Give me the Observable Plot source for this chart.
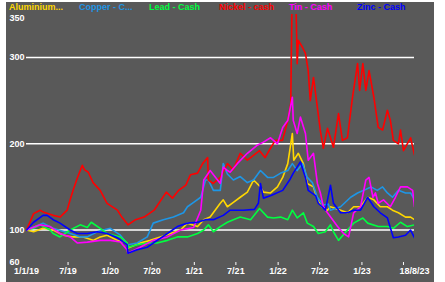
<!DOCTYPE html>
<html><head><meta charset="utf-8">
<script src="https://cdn.jsdelivr.net/npm/d3@7"></script>
<script src="https://cdn.jsdelivr.net/npm/@observablehq/plot@0.6"></script>
<style>
html,body{margin:0;padding:0;background:#fff;}
#wrap{position:absolute;left:6px;top:2px;width:428px;height:280px;background:#595959;overflow:hidden;}
#legend{position:absolute;left:0;top:0;width:428px;height:12px;}
.item{position:absolute;top:0;font:bold 9px "Liberation Sans",Arial,sans-serif;line-height:11px;white-space:nowrap;}
#chart{position:absolute;left:0;top:0;}
</style>
</head><body>
<div id="wrap"><div id="chart"></div><div id="legend"></div></div>
<script>
const seriesNames = ["Aluminium...", "Copper - C...", "Lead - Cash", "Nickel - cash", "Tin - Cash", "Zinc - Cash"];
const seriesColors = ["#ffd700", "#1e96e6", "#00ff40", "#ff0000", "#ff00ff", "#0000ff"];
const legendX = [3, 73, 143, 213, 283, 351];

const aluminium = [["2019-01-01",100],["2019-02-01",98],["2019-03-14",102],["2019-04-27",100],["2019-06-10",94],["2019-07-23",92],["2019-09-05",92],["2019-10-18",88],["2019-11-18",92],["2019-12-18",94],["2020-02-01",88],["2020-03-14",85],["2020-03-18",79],["2020-05-10",85],["2020-06-23",88],["2020-08-06",92],["2020-09-19",96],["2020-11-02",100],["2020-12-02",108],["2021-01-15",104],["2021-02-11",112],["2021-03-11",115],["2021-04-24",131],["2021-05-07",135],["2021-05-25",127],["2021-06-20",132],["2021-07-20",138],["2021-08-20",144],["2021-09-16",158],["2021-10-16",150],["2021-10-29",144],["2021-11-29",143],["2021-12-29",150],["2022-01-21",161],["2022-02-12",177],["2022-03-04",212],["2022-03-10",181],["2022-03-30",189],["2022-04-21",177],["2022-05-08",154],["2022-06-04",150],["2022-06-21",135],["2022-07-10",127],["2022-08-04",123],["2022-08-17",127],["2022-09-30",123],["2022-10-30",120],["2022-11-26",127],["2022-12-26",127],["2023-01-26",138],["2023-02-22",135],["2023-03-22",127],["2023-04-22",127],["2023-05-14",123],["2023-06-09",120],["2023-07-10",115],["2023-08-01",115],["2023-08-18",112]];

const copper = [["2019-01-01",100],["2019-03-14",108],["2019-04-27",102],["2019-07-10",96],["2019-08-23",92],["2019-09-23",92],["2019-11-05",98],["2019-12-01",100],["2020-01-01",102],["2020-02-14",94],["2020-03-18",83],["2020-04-27",85],["2020-06-10",92],["2020-07-06",108],["2020-08-19",112],["2020-10-02",115],["2020-11-15",120],["2020-12-02",127],["2020-12-29",132],["2021-01-29",138],["2021-02-19",158],["2021-03-03",158],["2021-03-25",146],["2021-04-24",146],["2021-05-07",177],["2021-05-25",165],["2021-06-20",158],["2021-07-20",162],["2021-08-20",155],["2021-09-16",158],["2021-10-16",169],["2021-11-16",161],["2021-12-12",161],["2022-01-12",166],["2022-02-12",169],["2022-03-04",177],["2022-03-25",169],["2022-04-17",177],["2022-05-08",161],["2022-05-30",155],["2022-06-21",138],["2022-07-17",129],["2022-08-08",130],["2022-08-17",123],["2022-09-30",127],["2022-11-13",138],["2022-12-13",143],["2023-01-09",146],["2023-02-09",150],["2023-03-09",146],["2023-04-01",150],["2023-04-22",143],["2023-05-14",138],["2023-06-09",146],["2023-07-10",143],["2023-08-01",143],["2023-08-18",135]];

const lead = [["2019-01-01",100],["2019-02-01",102],["2019-03-01",106],["2019-04-14",100],["2019-04-27",96],["2019-05-27",92],["2019-07-10",100],["2019-08-23",106],["2019-09-23",103],["2019-10-10",109],["2019-11-18",102],["2019-12-18",96],["2020-02-14",92],["2020-03-14",85],["2020-03-18",80],["2020-04-27",83],["2020-06-10",85],["2020-07-23",85],["2020-09-06",88],["2020-10-19",92],["2020-12-02",92],["2021-01-15",96],["2021-02-11",100],["2021-03-03",106],["2021-03-25",98],["2021-04-24",104],["2021-05-25",109],["2021-06-20",112],["2021-07-20",115],["2021-09-03",112],["2021-10-12",125],["2021-11-16",115],["2021-12-12",114],["2022-01-12",115],["2022-02-12",112],["2022-03-04",123],["2022-03-25",114],["2022-04-21",120],["2022-05-08",108],["2022-06-04",104],["2022-06-25",96],["2022-07-26",98],["2022-08-17",106],["2022-08-30",98],["2022-09-21",88],["2022-10-30",100],["2022-11-26",108],["2023-01-05",114],["2023-01-26",108],["2023-03-13",104],["2023-04-22",104],["2023-05-18",102],["2023-06-18",109],["2023-07-18",104],["2023-08-18",106]];

const nickel = [["2019-01-01",100],["2019-02-01",119],["2019-03-01",123],["2019-03-14",121],["2019-04-27",117],["2019-05-27",115],["2019-06-27",123],["2019-07-10",135],["2019-07-23",146],["2019-08-10",160],["2019-09-01",175],["2019-09-10",170],["2019-09-27",167],["2019-10-18",155],["2019-11-18",146],["2019-12-18",131],["2020-02-01",123],["2020-02-20",115],["2020-03-18",106],["2020-04-20",112],["2020-05-27",115],["2020-07-10",123],["2020-09-01",144],["2020-09-28",137],["2020-10-25",146],["2020-11-25",152],["2020-12-15",164],["2021-01-15",166],["2021-02-06",177],["2021-02-28",184],["2021-03-03",158],["2021-03-25",154],["2021-04-24",161],["2021-05-25",177],["2021-06-20",170],["2021-07-20",189],["2021-08-20",181],["2021-10-12",192],["2021-11-05",184],["2021-12-01",196],["2021-12-20",204],["2022-01-20",204],["2022-02-12",227],["2022-02-25",247],["2022-03-04",400],["2022-03-17",400],["2022-03-25",293],["2022-03-30",320],["2022-04-17",312],["2022-04-30",305],["2022-05-12",285],["2022-05-21",250],["2022-06-04",277],["2022-06-21",242],["2022-07-04",215],["2022-07-17",195],["2022-08-04",218],["2022-08-30",196],["2022-09-21",235],["2022-10-08",204],["2022-10-30",207],["2022-11-21",254],["2022-12-13",293],["2022-12-22",262],["2023-01-05",293],["2023-01-18",262],["2023-02-01",285],["2023-02-22",254],["2023-03-13",219],["2023-04-01",216],["2023-04-22",239],["2023-05-05",227],["2023-05-18",204],["2023-06-09",200],["2023-06-18",216],["2023-07-01",192],["2023-08-01",207],["2023-08-18",187]];

const tin = [["2019-01-01",100],["2019-03-01",106],["2019-04-14",104],["2019-05-27",96],["2019-07-10",92],["2019-08-10",85],["2019-09-23",86],["2019-11-18",88],["2020-01-01",88],["2020-02-14",86],["2020-03-14",77],["2020-03-18",73],["2020-05-10",80],["2020-07-06",88],["2020-09-06",92],["2020-11-02",100],["2020-12-29",103],["2021-01-29",123],["2021-02-11",158],["2021-03-11",169],["2021-04-24",154],["2021-05-07",173],["2021-05-25",169],["2021-06-06",167],["2021-07-07",177],["2021-08-20",189],["2021-09-30",198],["2021-10-29",202],["2021-11-29",207],["2021-12-29",200],["2022-01-21",219],["2022-02-12",227],["2022-03-04",254],["2022-03-08",227],["2022-03-25",212],["2022-04-08",231],["2022-04-30",212],["2022-05-12",181],["2022-06-04",189],["2022-06-21",154],["2022-07-04",143],["2022-07-17",127],["2022-08-04",120],["2022-09-17",104],["2022-10-13",96],["2022-11-04",92],["2022-11-26",120],["2022-12-26",127],["2023-01-18",158],["2023-02-01",161],["2023-02-18",138],["2023-03-01",143],["2023-03-13",131],["2023-04-05",135],["2023-05-05",127],["2023-05-27",138],["2023-06-18",150],["2023-07-18",150],["2023-08-10",146],["2023-08-18",127]];

const zinc = [["2019-01-01",100],["2019-02-01",109],["2019-03-14",117],["2019-04-01",117],["2019-04-27",112],["2019-05-27",108],["2019-07-10",100],["2019-08-10",96],["2019-09-23",96],["2019-11-05",98],["2019-12-18",96],["2020-02-01",91],["2020-03-14",83],["2020-03-18",73],["2020-04-27",77],["2020-06-10",80],["2020-07-23",88],["2020-09-06",96],["2020-10-19",104],["2020-12-02",108],["2021-01-15",109],["2021-02-19",112],["2021-03-25",112],["2021-05-07",117],["2021-06-06",123],["2021-08-03",123],["2021-09-20",124],["2021-10-07",131],["2021-10-16",154],["2021-10-29",137],["2021-12-01",140],["2022-01-21",146],["2022-02-20",158],["2022-03-08",166],["2022-04-08",179],["2022-04-30",161],["2022-05-12",146],["2022-06-13",140],["2022-06-25",131],["2022-07-26",123],["2022-08-17",152],["2022-08-30",131],["2022-09-30",120],["2022-10-30",120],["2022-11-26",123],["2022-12-26",123],["2023-01-26",138],["2023-02-22",127],["2023-03-22",120],["2023-04-22",114],["2023-05-18",91],["2023-06-09",92],["2023-07-10",94],["2023-08-01",100],["2023-08-18",91]];

const gridValues = [100, 200, 300];
const yTickMid = [100, 200, 300];
const yTickTop = [350];
const yTickBottom = [60];
const xLabelDates = ["2019-01-01","2019-07-01","2020-01-01","2020-07-01","2021-01-01","2021-07-01","2022-01-01","2022-07-01","2023-01-01","2023-08-18"];
const xLabelText = ["1/1/19","7/19","1/20","7/20","1/21","7/21","1/22","7/22","1/23","18/8/23"];
const xTickDates = ["2019-07-01","2020-01-01","2020-07-01","2021-01-01","2021-07-01","2022-01-01","2022-07-01","2023-01-01","2023-07-01"];

const allSeries = [aluminium, copper, lead, nickel, tin, zinc];
const rows = allSeries.flatMap((s, i) => s.map(([d, v]) => ({date: new Date(d), value: v, series: seriesNames[i]})));

const font = {fill: "white", fontWeight: "bold", fontSize: 9, fontFamily: "Liberation Sans, Arial, sans-serif"};

const chart = Plot.plot({
  width: 428, height: 280,
  marginLeft: 20, marginRight: 20, marginTop: 12, marginBottom: 18,
  style: {background: "transparent", overflow: "visible"},
  x: {type: "utc", domain: [new Date("2019-01-01"), new Date("2023-08-18")], axis: null},
  y: {domain: [60, 350], axis: null},
  color: {domain: seriesNames, range: seriesColors},
  marks: [
    Plot.ruleY(gridValues, {y: d => d, stroke: "white", strokeWidth: 1.5}),
    Plot.lineY(rows, {x: "date", y: "value", z: "series", stroke: "series", strokeWidth: 1.6, clip: true}),
    Plot.ruleX(xTickDates, {x: d => new Date(d), y1: 60, y2: 60, insetTop: -2, insetBottom: -1, stroke: "white", strokeWidth: 1}),
    Plot.text(xLabelDates, {x: d => new Date(d), text: (d, i) => xLabelText[i], frameAnchor: "bottom", dy: 9, ...font}),
    Plot.text(yTickMid, {y: d => d, text: d => String(d), frameAnchor: "left", dx: -17, textAnchor: "start", ...font}),
    Plot.text(yTickTop, {y: d => d, text: d => String(d), frameAnchor: "left", dx: -17, textAnchor: "start", lineAnchor: "top", ...font}),
    Plot.text(yTickBottom, {y: d => d, text: d => String(d), frameAnchor: "left", dx: -17, textAnchor: "start", lineAnchor: "bottom", ...font})
  ]
});
document.getElementById("chart").appendChild(chart);

const legend = document.getElementById("legend");
seriesNames.forEach((n, i) => {
  const el = document.createElement("div");
  el.className = "item";
  el.style.left = legendX[i] + "px";
  el.style.color = seriesColors[i];
  el.textContent = n;
  legend.appendChild(el);
});
</script>
</body></html>
